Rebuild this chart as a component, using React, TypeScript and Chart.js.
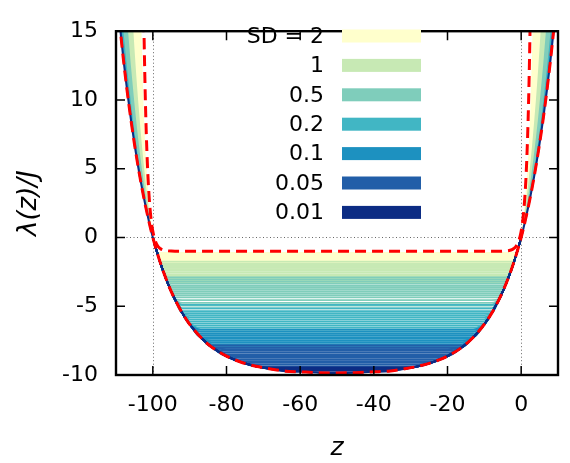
import React, { useEffect, useRef } from "react";
import { Chart, registerables } from "chart.js";

Chart.register(...registerables);

// ---------- axis / legend data ----------
const xTicks = [-100, -80, -60, -40, -20, 0];
const yTicks = [-10, -5, 0, 5, 10, 15];
const refLinesX = [-100, 0];
const refLinesY = [0];
const legendLabels = ["SD = 2", "1", "0.5", "0.2", "0.1", "0.05", "0.01"];
const groupColors = ["#ffffcc", "#c7e9b4", "#7fcdbb", "#41b6c4", "#1d91c0", "#225ea8", "#0c2c84"];

// ---------- outer walls (left side, z < -100; the chart is mirror-symmetric about z = -50) ----------
const wallZ = [-110, -109, -108, -107, -106, -105, -104.5, -104, -103.5, -103, -102.5, -102, -101.5, -101, -100.75, -100.5, -100.25, -100];
const envOuter = [18.3, 15.51, 12.98, 10.71, 8.66, 6.82, 5.97, 5.16, 4.39, 3.66, 2.97, 2.31, 1.69, 1.1, 0.81, 0.53, 0.26, 0];
const wallSD2 = [135, 110, 90, 70, 55, 40, 33, 27, 20.2, 14.1, 9.2, 6.2, 4.2, 2.6, 1.9, 1.27, 0.61, 0];
const wallSD1 = [46, 37, 29.5, 23.4, 18.2, 13.8, 11.8, 10.0, 8.35, 6.8, 5.4, 4.12, 2.95, 1.88, 1.38, 0.9, 0.44, 0];
const wallSD05 = [29.03, 24.06, 19.72, 15.94, 12.63, 9.76, 8.45, 7.24, 6.1, 5.04, 4.05, 3.13, 2.26, 1.46, 1.07, 0.7, 0.35, 0];
const wallSD02 = [21.49, 18.08, 15.03, 12.32, 9.9, 7.74, 6.75, 5.82, 4.94, 4.11, 3.32, 2.58, 1.88, 1.22, 0.9, 0.59, 0.29, 0];
const wallSD01 = [19.66, 16.6, 13.86, 11.4, 9.2, 7.22, 6.31, 5.45, 4.63, 3.85, 3.12, 2.43, 1.77, 1.15, 0.85, 0.56, 0.28, 0];
const wallSD005 = [18.91, 16.0, 13.38, 11.02, 8.9, 7.0, 6.12, 5.29, 4.5, 3.75, 3.04, 2.36, 1.73, 1.12, 0.83, 0.55, 0.27, 0];

// ---------- inner envelope (left half, -100 < z <= -50) ----------
const envInZ = [-99.5, -99, -98.5, -98, -97, -96, -95, -94, -92, -90, -87, -84, -80, -76, -72, -68, -64, -60, -55, -50];
const envIn = [-0.49, -0.95, -1.39, -1.81, -2.59, -3.29, -3.93, -4.5, -5.5, -6.31, -7.26, -7.97, -8.63, -9.07, -9.37, -9.56, -9.72, -9.77, -9.83, -9.85];

// ---------- red dashed box-like curve (left half) ----------
const boxZLeft = [-103, -102.75, -102.5, -102.25, -102, -101.75, -101.5, -101.25, -101, -100.75, -100.5, -100.25, -100, -99.75, -99.5, -99.25, -99, -98.5, -98, -97.5, -97, -96, -95, -94, -50];
const boxVLeft = [28.1, 21.7, 16.66, 12.76, 9.71, 7.34, 5.5, 4.06, 2.94, 2.07, 1.39, 0.86, 0.45, 0.13, -0.12, -0.32, -0.47, -0.68, -0.8, -0.88, -0.93, -0.97, -0.99, -1.0, -1.0];

// ---------- plateau levels of the family of curves, by SD group ----------
const levelsSD2 = [-1.12, -1.2, -1.28, -1.36, -1.44, -1.52, -1.6, -1.7, -1.8];
const levelsSD1 = [-1.75, -1.9, -2.0, -2.1, -2.2, -2.3, -2.42, -2.55, -2.68, -2.8, -2.95, -3.1, -3.25];
const levelsSD05 = [-2.9, -3.05, -3.2, -3.35, -3.5, -3.62, -3.75, -3.9, -4.05, -4.2, -4.35, -4.55, -4.75, -4.95, -5.15];
const levelsSD02 = [-4.9, -5.15, -5.35, -5.5, -5.65, -5.8, -5.95, -6.1, -6.25, -6.4, -6.55, -6.7, -6.85];
const levelsSD01 = [-6.7, -6.85, -7.0, -7.12, -7.25, -7.38, -7.5, -7.62, -7.75, -7.88, -8.0];
const levelsSD005 = [-7.85, -8.0, -8.12, -8.25, -8.38, -8.5, -8.62, -8.75, -8.88, -9.0, -9.12, -9.25, -9.38, -9.5];
const levelsSD001 = [-9.45, -9.55, -9.62, -9.7];

type P = { x: number; y: number };
const mirror = (z: number) => -100 - z;

function outerLeft(vals: number[]): P[] {
  return wallZ.map((z, i) => ({ x: z, y: vals[i] }));
}
function outerRight(vals: number[]): P[] {
  return wallZ.map((z, i) => ({ x: mirror(z), y: vals[i] })).reverse();
}
function interior(): P[] {
  const left: P[] = [{ x: -100, y: 0 }, ...envInZ.map((z, i) => ({ x: z, y: envIn[i] }))];
  const right = left.slice(0, -1).map((p) => ({ x: mirror(p.x), y: p.y })).reverse();
  return [...left, ...right];
}
function boxCurve(): P[] {
  const left = boxZLeft.map((z, i) => ({ x: z, y: boxVLeft[i] }));
  const right = left.slice(0, -1).map((p) => ({ x: mirror(p.x), y: p.y })).reverse();
  return [...left, ...right];
}

const FONT = "DejaVu Sans";

const frame = {
  id: "frame",
  beforeDatasetsDraw(chart: any) {
    const { ctx, chartArea: a, scales } = chart;
    ctx.save();
    ctx.strokeStyle = "#666";
    ctx.lineWidth = 1;
    ctx.setLineDash([1, 2.5]);
    refLinesX.forEach((v) => {
      const px = Math.round(scales.x.getPixelForValue(v)) + 0.5;
      ctx.beginPath();
      ctx.moveTo(px, a.top);
      ctx.lineTo(px, a.bottom);
      ctx.stroke();
    });
    refLinesY.forEach((v) => {
      const py = Math.round(scales.y.getPixelForValue(v)) + 0.5;
      ctx.beginPath();
      ctx.moveTo(a.left, py);
      ctx.lineTo(a.right, py);
      ctx.stroke();
    });
    ctx.restore();
  },
  afterDatasetsDraw(chart: any) {
    const { ctx, chartArea: a, scales } = chart;
    ctx.save();
    ctx.strokeStyle = "#000";
    ctx.lineWidth = 1.5;
    const tl = 9;
    xTicks.forEach((v) => {
      const px = scales.x.getPixelForValue(v);
      ctx.beginPath();
      ctx.moveTo(px, a.bottom);
      ctx.lineTo(px, a.bottom - tl);
      ctx.moveTo(px, a.top);
      ctx.lineTo(px, a.top + tl);
      ctx.stroke();
    });
    yTicks.forEach((v) => {
      const py = scales.y.getPixelForValue(v);
      ctx.beginPath();
      ctx.moveTo(a.left, py);
      ctx.lineTo(a.left + tl, py);
      ctx.moveTo(a.right, py);
      ctx.lineTo(a.right - tl, py);
      ctx.stroke();
    });
    ctx.lineWidth = 2.4;
    ctx.strokeRect(a.left, a.top, a.right - a.left, a.bottom - a.top);
    // legend
    const textRight = 324;
    const barX = 342;
    const barW = 79;
    const barH = 13;
    const rowY0 = 36;
    const dy = 29.4;
    ctx.font = `22px '${FONT}'`;
    ctx.textAlign = "right";
    ctx.textBaseline = "middle";
    legendLabels.forEach((lab, i) => {
      const cy = rowY0 + i * dy;
      ctx.fillStyle = "#000";
      ctx.fillText(lab, textRight, cy + 1);
      ctx.fillStyle = groupColors[i];
      ctx.fillRect(barX, cy - barH / 2, barW, barH);
    });
    ctx.restore();
  },
};

export default function App() {
  const ref = useRef<HTMLCanvasElement | null>(null);

  useEffect(() => {
    if (!ref.current) return;
    const ds: any[] = [];
    // helper envelope datasets (fill targets)
    ds.push({ data: outerLeft(envOuter), borderWidth: 0, borderColor: "rgba(0,0,0,0)", pointRadius: 0, fill: false });
    ds.push({ data: outerRight(envOuter), borderWidth: 0, borderColor: "rgba(0,0,0,0)", pointRadius: 0, fill: false });
    const walls = [wallSD2, wallSD1, wallSD05, wallSD02, wallSD01, wallSD005];
    walls.forEach((w, k) => {
      ds.push({ data: outerLeft(w), borderWidth: 0, borderColor: "rgba(0,0,0,0)", backgroundColor: groupColors[k], pointRadius: 0, fill: 0 });
      ds.push({ data: outerRight(w), borderWidth: 0, borderColor: "rgba(0,0,0,0)", backgroundColor: groupColors[k], pointRadius: 0, fill: 1 });
    });
    const inner = interior();
    const groups = [levelsSD2, levelsSD1, levelsSD05, levelsSD02, levelsSD01, levelsSD005, levelsSD001];
    groups.forEach((levels, k) => {
      levels.forEach((c) => {
        ds.push({
          data: inner.map((p) => ({ x: p.x, y: Math.max(p.y, c) })),
          borderColor: groupColors[k],
          borderWidth: 1.8,
          pointRadius: 0,
          fill: false,
          cubicInterpolationMode: "monotone",
        });
      });
    });
    const envFull = [...outerLeft(envOuter), ...inner.slice(1), ...outerRight(envOuter).slice(1)];
    ds.push({ data: envFull, borderColor: "#0c2c84", borderWidth: 2, pointRadius: 0, fill: false, cubicInterpolationMode: "monotone" });
    ds.push({ data: boxCurve(), borderColor: "#ff0000", borderWidth: 3, borderDash: [11, 6], pointRadius: 0, fill: false, cubicInterpolationMode: "monotone" });
    ds.push({ data: envFull, borderColor: "#ff0000", borderWidth: 3, borderDash: [11, 6], pointRadius: 0, fill: false, cubicInterpolationMode: "monotone" });
    const n = ds.length;
    ds.forEach((d, i) => (d.order = n - i));

    const chart = new Chart(ref.current, {
      type: "line",
      data: { datasets: ds },
      options: {
        animation: false,
        responsive: true,
        maintainAspectRatio: false,
        layout: { padding: { top: 13, right: 12, left: 0, bottom: 0 } },
        plugins: { legend: { display: false }, tooltip: { enabled: false } },
        elements: { line: { tension: 0 } },
        scales: {
          x: {
            type: "linear",
            min: -110,
            max: 10,
            grid: { display: false, drawTicks: false },
            border: { display: false },
            afterBuildTicks: (s: any) => {
              s.ticks = xTicks.map((v) => ({ value: v }));
            },
            afterFit: (s: any) => {
              s.height = 88;
            },
            ticks: { font: { family: FONT, size: 22 }, color: "#000", padding: 17, maxRotation: 0 },
            title: { display: true, text: "z", font: { family: FONT, size: 25, style: "italic" }, color: "#000", padding: { top: 0, bottom: 0 } },
          },
          y: {
            type: "linear",
            min: -10,
            max: 15,
            grid: { display: false, drawTicks: false },
            border: { display: false },
            afterBuildTicks: (s: any) => {
              s.ticks = yTicks.map((v) => ({ value: v }));
            },
            afterFit: (s: any) => {
              s.width = 116;
            },
            ticks: { font: { family: FONT, size: 22 }, color: "#000", padding: 18 },
            title: { display: true, text: "λ(z)/J", font: { family: FONT, size: 26, style: "italic" }, color: "#000", padding: { top: 14, bottom: 0 } },
          },
        },
      },
      plugins: [frame],
    });
    return () => chart.destroy();
  }, []);

  return (
    <div style={{ position: "absolute", left: 0, top: 0, width: 570, height: 463, background: "#fff" }}>
      <canvas ref={ref} />
    </div>
  );
}
